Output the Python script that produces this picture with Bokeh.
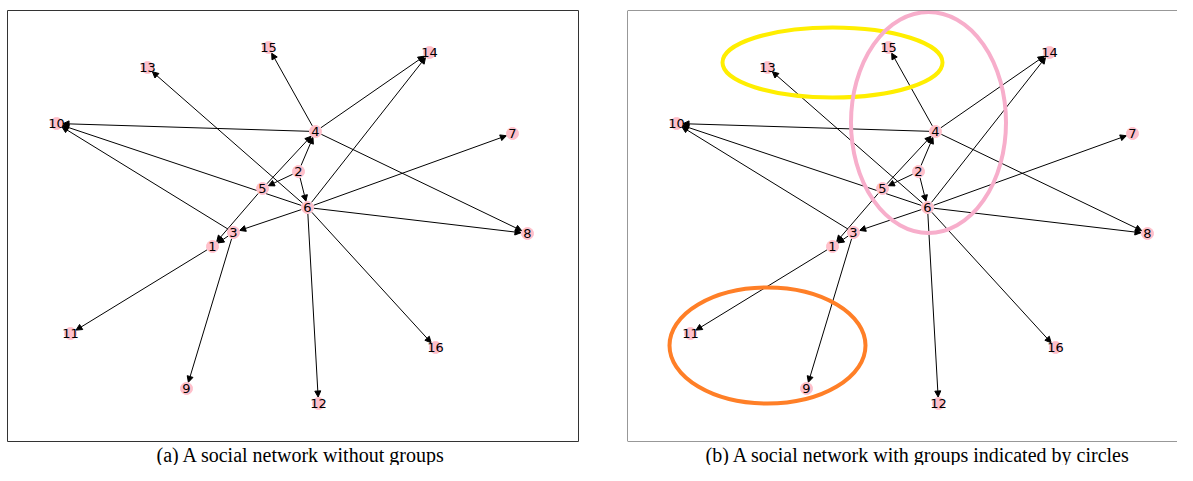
import math
from bokeh.plotting import figure
from bokeh.models import ColumnDataSource, Arrow, NormalHead, Range1d, Span, Title
from bokeh.layouts import row
from bokeh.core.properties import value
from bokeh.embed import file_html
from bokeh.resources import INLINE

# ---- data ----
node_ids = [1, 2, 3, 4, 5, 6, 7, 8, 9, 10, 11, 12, 13, 14, 15, 16]
node_x = [205, 291, 226, 308, 255, 300, 505, 520, 179, 49, 63, 311, 140, 422, 261, 428]
node_y = [195, 270, 209, 310, 253, 234, 308, 208, 53, 318, 108, 38, 374, 389, 394, 94]

edge_src = [4, 4, 4, 4, 6, 6, 6, 3, 6, 6, 6, 6, 6, 2, 2, 2, 5, 5, 3, 1, 3]
edge_dst = [15, 14, 10, 8, 14, 13, 10, 10, 7, 8, 3, 12, 16, 5, 6, 4, 4, 1, 1, 11, 9]

group_names = ["yellow group", "pink group", "orange group"]
group_cx = [205, 301, 140]
group_cy = [379, 319, 96]
group_w = [220, 155, 196]
group_h = [70, 221, 116]
group_colors = ["#FFEE00", "#F7AECB", "#FF7F27"]

captions = ["(a) A social network without groups",
            "(b) A social network with groups indicated by circles"]

pos = {n: (x, y) for n, x, y in zip(node_ids, node_x, node_y)}


def edge_source(shrink=6.5):
    xs, ys, xe, ye = [], [], [], []
    for s, d in zip(edge_src, edge_dst):
        x0, y0 = pos[s]
        x1, y1 = pos[d]
        L = math.hypot(x1 - x0, y1 - y0)
        ux, uy = (x1 - x0) / L, (y1 - y0) / L
        xs.append(x0 + ux * shrink)
        ys.append(y0 + uy * shrink)
        xe.append(x1 - ux * shrink)
        ye.append(y1 - uy * shrink)
    return ColumnDataSource(dict(x_start=xs, y_start=ys, x_end=xe, y_end=ye))


def make_panel(frame_w, xmax, caption, cap_offset, border_left, border_right, outline):
    p = figure(frame_width=frame_w, frame_height=431, x_range=Range1d(0, xmax), y_range=Range1d(0, 431),
               x_axis_type=None, y_axis_type=None, output_backend="svg",
               toolbar_location=None, min_border_left=border_left, min_border_right=border_right,
               min_border_top=10, min_border_bottom=24)
    p.grid.visible = False
    p.background_fill_color = "white"
    p.border_fill_color = "white"
    if outline:
        p.outline_line_color = "#333333"
        p.outline_line_width = 1
    else:
        p.outline_line_color = None
    src = edge_source()
    arr = Arrow(source=src, x_start="x_start", y_start="y_start", x_end="x_end", y_end="y_end",
                line_color="black", line_width=1,
                end=NormalHead(size=6, fill_color="black", line_color="black", line_width=1),
                level="underlay")
    p.add_layout(arr)
    nsrc = ColumnDataSource(dict(x=node_x, y=node_y, label=[str(n) for n in node_ids]))
    p.scatter("x", "y", source=nsrc, size=12, fill_color="#FFC0CB", line_color="#FFC0CB")
    p.text("x", "y", text="label", source=nsrc, text_font=value("DejaVu Sans"),
           text_font_size="13px", text_align="center", text_baseline="middle", text_color="black")
    t = Title(text=caption, align="left", offset=cap_offset, standoff=0,
              text_font="Liberation Serif", text_font_size="20px", text_font_style="normal",
              text_color="black")
    p.add_layout(t, "below")
    return p


pa = make_panel(571, 571, captions[0], 149, 7, 49, True)
pb = make_panel(550, 550, captions[1], 78, 0, 0, False)

gsrc = ColumnDataSource(dict(x=group_cx, y=group_cy, w=group_w, h=group_h, c=group_colors, name=group_names))
pb.ellipse("x", "y", width="w", height="h", source=gsrc, fill_color=None, line_color="c", line_width=4)

for loc, dim in [(0, "height"), (0, "width"), (431, "width")]:
    pb.add_layout(Span(location=loc, dimension=dim, line_color="#333333", line_width=1))

layout = row(pa, pb)
open("out.html", "w").write(file_html(layout, INLINE))
